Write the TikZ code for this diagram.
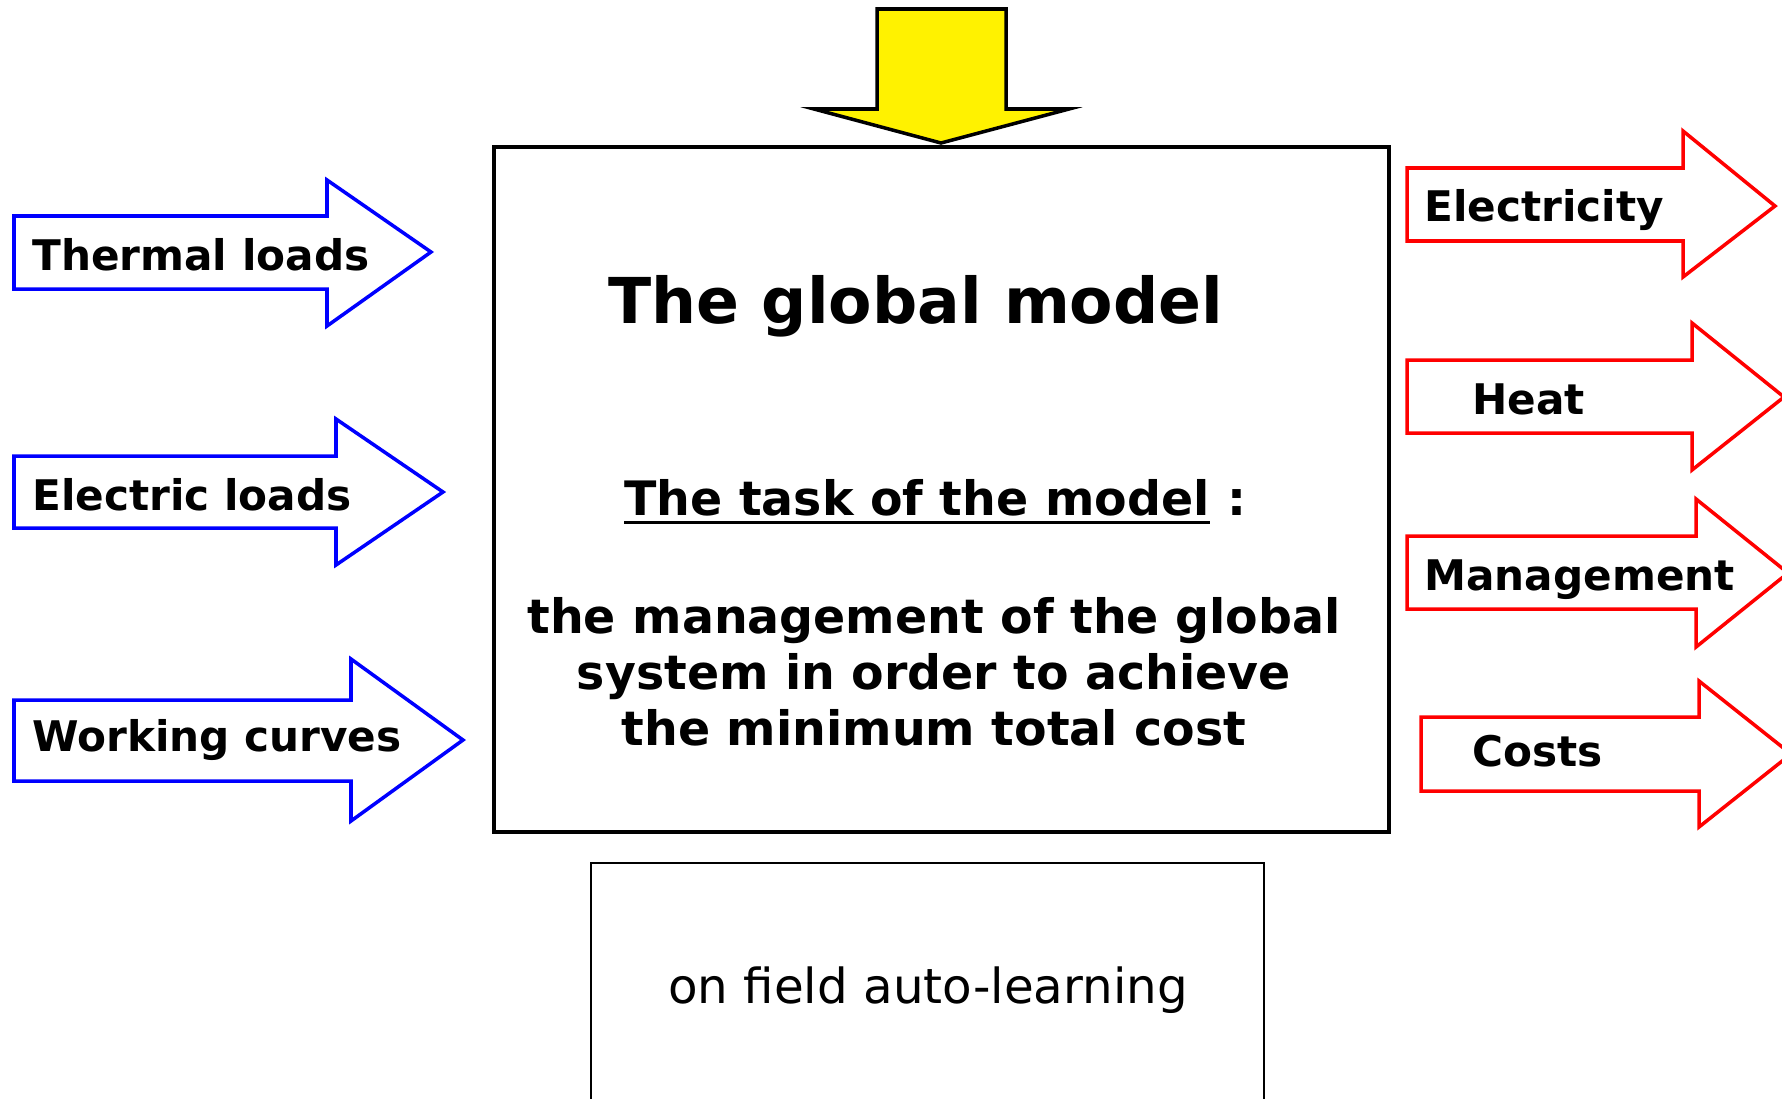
\documentclass[tikz,border=0pt]{standalone}
\usepackage{fontspec}
\setmainfont{DejaVu Sans}
\usetikzlibrary{positioning}

\tikzset{
  inarrow/.style={draw=blue, line width=2pt, line join=miter},
  outarrow/.style={draw=red, line width=2pt, line join=miter},
  arrowtext/.style={anchor=west, inner sep=0pt, font=\fontsize{24}{28}\selectfont\bfseries},
  modeltext/.style={inner sep=0pt, align=center, font=\fontsize{27}{32}\selectfont\bfseries}
}

\begin{document}
\begin{tikzpicture}[x=0.2mm, y=-0.2mm]
    \useasboundingbox (0,0) rectangle (1782,1098);

    % Fleche d'entree en haut
    \filldraw[fill=yellow, draw=black, line width=2pt]
      (877,9) -- (1006,9) -- (1006,109) -- (1069,109) -- (941,143)
      -- (814,109) -- (877,109) -- cycle;

    % Bloc principal
    \draw[line width=2pt] (494,147) rectangle (1389,832);
    \node[inner sep=0pt, font=\fontsize{36}{40}\selectfont\bfseries] (title) at (916,306) {The global model};
    \node[modeltext, anchor=west] (task) at (624,498) {The task of the model};
    \node[modeltext, anchor=base west] (colon) at ([xshift=10pt]task.base east) {:};
    \draw[line width=1.6pt] ([yshift=-4pt]task.base west) -- ([yshift=-4pt]task.base east);
    \node[modeltext] (goal) at (934,672) {the management of the global\\system in order to achieve\\the minimum total cost};

    % Bloc du bas
    \draw[line width=1.2pt] (591,863) rectangle (1264,1110);
    \node[inner sep=0pt, font=\fontsize{27.5}{32}\selectfont] (learn) at (928,990) {on field auto-learning};

    % Entrees (bleu)
    \draw[inarrow] (14,216) -- (327,216) -- (327,180) -- (431,252) -- (327,326) -- (327,289) -- (14,289) -- cycle;
    \node[arrowtext] (thermal) at (32,255) {Thermal loads};
    \draw[inarrow] (14,456) -- (336,456) -- (336,419) -- (443,492) -- (336,565) -- (336,528) -- (14,528) -- cycle;
    \node[arrowtext] (electric) at (32,495) {Electric loads};
    \draw[inarrow] (14,700) -- (351,700) -- (351,659) -- (463,740) -- (351,821) -- (351,781) -- (14,781) -- cycle;
    \node[arrowtext] (curves) at (32,740) {Working curves};

    % Sorties (rouge)
    \draw[outarrow] (1407,168) -- (1683,168) -- (1683,131) -- (1775,206) -- (1683,277) -- (1683,241) -- (1407,241) -- cycle;
    \node[arrowtext] (elec) at (1424,210) {Electricity};
    \draw[outarrow] (1407,360) -- (1692,360) -- (1692,323) -- (1784,397) -- (1692,470) -- (1692,433) -- (1407,433) -- cycle;
    \node[arrowtext] (heat) at (1472,399) {Heat};
    \draw[outarrow] (1407,536) -- (1696,536) -- (1696,499) -- (1788,573) -- (1696,647) -- (1696,609) -- (1407,609) -- cycle;
    \node[arrowtext] (manage) at (1424,580) {Management};
    \draw[outarrow] (1421,717) -- (1699,717) -- (1699,681) -- (1791,754) -- (1699,827) -- (1699,791) -- (1421,791) -- cycle;
    \node[arrowtext] (costs) at (1472,751) {Costs};
\end{tikzpicture}
\end{document}
